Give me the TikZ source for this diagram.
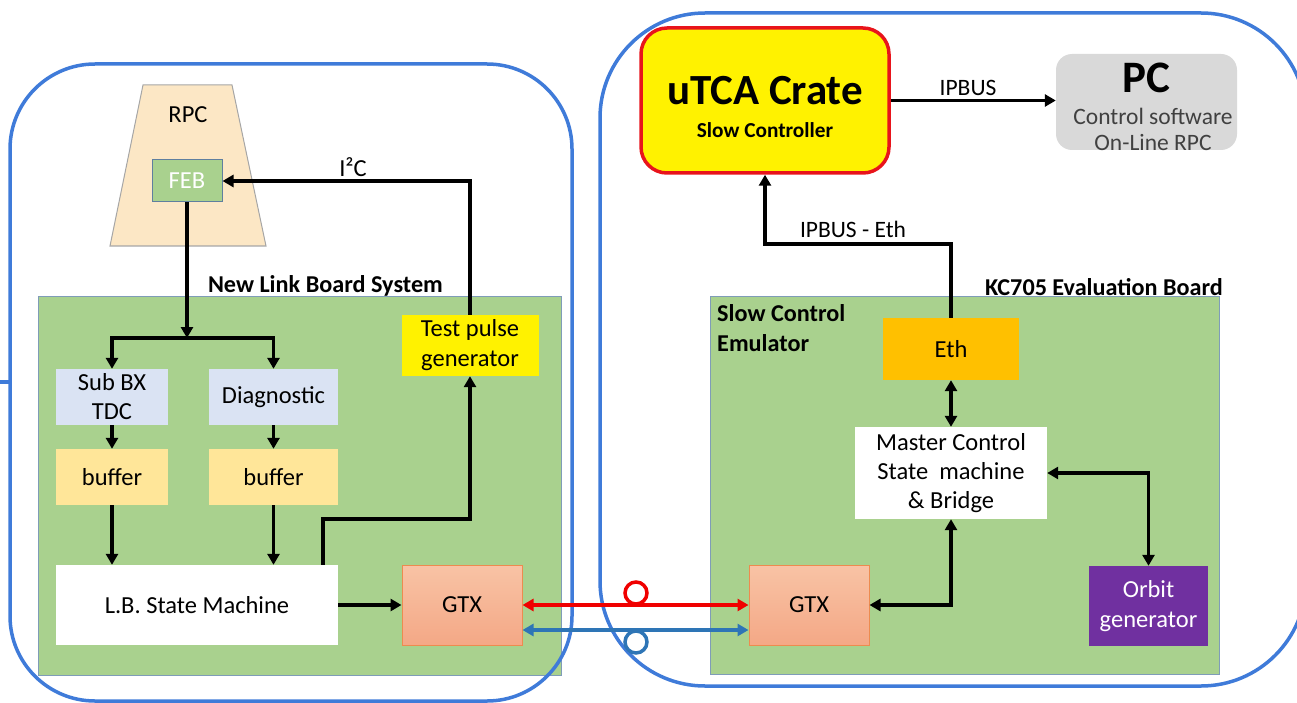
\documentclass[tikz,border=0pt]{standalone}
\usepackage{fontspec}
\setmainfont{Carlito}
\usetikzlibrary{arrows.meta,calc}

\definecolor{panelgreen}{HTML}{A9D18E}
\definecolor{paneledge}{HTML}{7F9CB8}
\definecolor{outlineblue}{HTML}{3F7BD9}
\definecolor{tdcblue}{HTML}{DAE3F3}
\definecolor{bufyellow}{HTML}{FFE699}
\definecolor{gtxtop}{HTML}{F8C3A5}
\definecolor{gtxbot}{HTML}{F4A886}
\definecolor{gtxedge}{HTML}{ED8B4F}
\definecolor{ethorange}{HTML}{FFC000}
\definecolor{orbitpurple}{HTML}{7030A0}
\definecolor{rpcbeige}{HTML}{FCE7C5}
\definecolor{rpcedge}{HTML}{A6A6A6}
\definecolor{febedge}{HTML}{5F7F9F}
\definecolor{pcgray}{HTML}{D9D9D9}
\definecolor{pctext}{HTML}{404040}
\definecolor{cratered}{HTML}{E8141B}
\definecolor{linkred}{HTML}{F00000}
\definecolor{linkblue}{HTML}{2E75B6}

\tikzset{
  txt/.style={font=\fontsize{24.5}{29}\selectfont, align=center, inner sep=0pt},
  boldtxt/.style={font=\bfseries\fontsize{24.2}{30}\selectfont, inner sep=0pt},
  panel/.style={fill=panelgreen, draw=paneledge, line width=1pt},
  roundframe/.style={draw=outlineblue, line width=3.5pt},
  arr/.style={line width=3.5pt, -{Triangle[length=11pt,width=12pt]}},
  darr/.style={line width=3.5pt, {Triangle[length=11pt,width=12pt]}-{Triangle[length=11pt,width=12pt]}},
  gtxbox/.style={txt, top color=gtxtop, bottom color=gtxbot, draw=gtxedge, line width=1pt,
    minimum width=120pt, minimum height=80pt},
}

\begin{document}
\begin{tikzpicture}[x=1pt,y=-1pt]
\useasboundingbox (0,0) rectangle (1297,703);

% green boards
\node[panel, minimum width=523pt, minimum height=379pt] (nlbs) at (299.5,485.5) {};
\node[panel, minimum width=509pt, minimum height=378pt] (kc705) at (964.5,485) {};

% rounded frames of the two systems
\draw[roundframe, rounded corners=85pt] (10,64) rectangle (572,701);
\draw[roundframe, rounded corners=105pt] (600,13) rectangle (1306,686);
\draw[roundframe] (0,382) -- (10,382);

% board titles
\node[boldtxt, anchor=east] (nlbtitle) at (443,286) {New Link Board System};
\node[boldtxt, anchor=east] (kctitle) at (1223,287) {KC705 Evaluation Board};
\node[boldtxt, anchor=north west, align=left] (scetitle) at (717,304) {Slow Control\\Emulator};

% RPC chamber with its front-end board
\draw[fill=rpcbeige, draw=rpcedge, line width=1pt] (143,85) -- (232,85) -- (266,246) -- (110,246) -- cycle;
\node[txt] (rpc) at (188,115) {RPC};
\node[txt, fill=panelgreen, draw=febedge, line width=1pt, text=white,
      minimum width=70pt, minimum height=42pt] (feb) at (187,181) {FEB};

% New Link Board blocks
\node[txt, fill=tdcblue, minimum width=112pt, minimum height=56pt] (subbx) at (112,397) {Sub BX\\TDC};
\node[txt, fill=tdcblue, minimum width=129pt, minimum height=56pt] (diag) at (273.5,397) {Diagnostic};
\node[txt, fill=bufyellow, minimum width=112pt, minimum height=56pt] (buf1) at (112,477) {buffer};
\node[txt, fill=bufyellow, minimum width=129pt, minimum height=56pt] (buf2) at (273.5,477) {buffer};
\node[txt, fill=white, minimum width=282pt, minimum height=80pt] (lb) at (197,605) {L.B. State Machine};
\node[gtxbox] (gtxl) at (462,605) {GTX};
\node[txt, fill=yellow, minimum width=137pt, minimum height=61pt, font=\fontsize{24.5}{30}\selectfont] (tp) at (470,345.5) {Test pulse\\generator};

% Slow control side
\node[txt, fill=yellow, draw=cratered, line width=3.5pt, rounded corners=26pt,
      minimum width=248pt, minimum height=145pt] (utca) at (765,100.5) {};
\node[inner sep=0pt, font=\bfseries\fontsize{43}{46}\selectfont] (utcaname) at (765,91) {uTCA Crate};
\node[inner sep=0pt, font=\bfseries\fontsize{21.3}{24}\selectfont] (utcasub) at (765,130) {Slow Controller};

\node[fill=pcgray, rounded corners=16pt, minimum width=181pt, minimum height=96pt] (pc) at (1146.5,102) {};
\node[inner sep=0pt, font=\bfseries\fontsize{45}{48}\selectfont] (pcname) at (1146,78) {PC};
\node[inner sep=0pt, text=pctext, align=center, font=\fontsize{23.5}{26}\selectfont] (pcsub) at (1153,129) {Control software\\On-Line RPC};

\node[txt, fill=ethorange, minimum width=136pt, minimum height=62pt] (eth) at (951,349) {Eth};
\node[txt, fill=white, minimum width=192pt, minimum height=92pt] (master) at (951,473) {Master Control\\State\ \ machine\\\& Bridge};
\node[txt, fill=orbitpurple, text=white, minimum width=119pt, minimum height=80pt, font=\fontsize{24.5}{30}\selectfont] (orbit) at (1148.5,606) {Orbit\\generator};
\node[gtxbox] (gtxr) at (809,605) {GTX};

% data path of the link board
\coordinate (split) at (187,338);
\draw[arr] (feb.south) -- (split);
\draw[arr] (split) -| (subbx.north);
\draw[arr] (split) -| (diag.north);
\draw[arr] (subbx.south) -- (buf1.north);
\draw[arr] (diag.south) -- (buf2.north);
\draw[arr] (buf1.south) -- (buf1.south |- lb.north);
\draw[arr] (buf2.south) -- (buf2.south |- lb.north);
\draw[arr] (lb.east) -- (lb.east -| gtxl.west);
\draw[arr] ([xshift=-15pt]lb.north east) -- ++(0,-46) -| (tp.south);
\draw[arr] (tp.north) |- (feb.east);
\node[txt] (i2c) at (353,167) {I²C};

% slow control connections
\draw[arr] (utca.east) -- (utca.east -| pc.west);
\node[txt, font=\fontsize{23.5}{28}\selectfont] (ipbus) at (968,88) {IPBUS};
\draw[arr] (eth.north) -- ++(0,-74) coordinate (ethup) -| (utca.south);
\node[txt, font=\fontsize{23.5}{28}\selectfont] (ipbuseth) at (853,229) {IPBUS - Eth};
\draw[darr] (eth.south) -- (master.north);
\draw[darr] (master.east) -| (orbit.north);
\draw[darr] (gtxr.east) -| (master.south);

% optical links between the two GTX transceivers
\draw[darr, draw=linkred] (gtxl.east) -- (gtxr.west);
\draw[darr, draw=linkblue] ([yshift=-25pt]gtxl.east) -- ([yshift=-25pt]gtxr.west);
\draw[draw=linkred, line width=3.5pt] (636,593) circle (11);
\draw[draw=linkblue, line width=3.5pt] (636,642) circle (11);
\end{tikzpicture}
\end{document}
